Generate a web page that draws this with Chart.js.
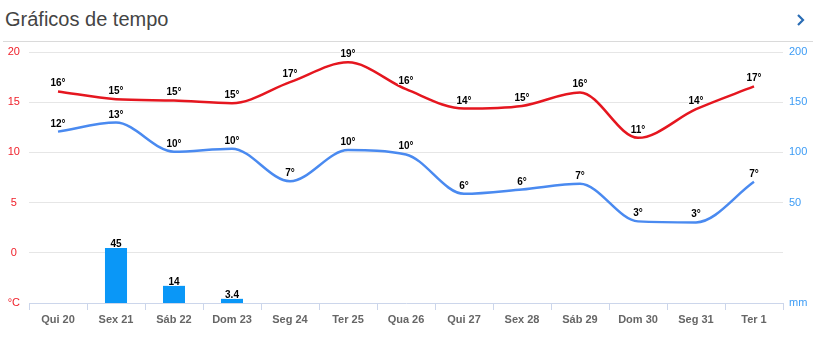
<!DOCTYPE html>
<html lang="pt">
<head>
<meta charset="utf-8">
<title>Gráficos de tempo</title>
<script src="https://cdn.jsdelivr.net/npm/chart.js@4.4.1/dist/chart.umd.min.js"></script>
<style>
  html, body { margin: 0; padding: 0; background: #fff; }
  body { width: 816px; height: 340px; position: relative; overflow: hidden; font-family: 'Liberation Sans', Arial, sans-serif; }
  .header { position: absolute; left: 3px; top: 0; width: 810px; height: 41px; border-bottom: 1px solid #dadada; }
  .header h2 { margin: 0; position: absolute; left: 2px; top: 8px; font-size: 20px; font-weight: normal; color: #444; }
  .header svg { position: absolute; left: 792px; top: 13px; }
  .chart-box { position: absolute; left: 0; top: 43px; width: 816px; height: 297px; }
</style>
</head>
<body>
<div class="header">
  <h2>Gráficos de tempo</h2>
  <svg width="12" height="14" viewBox="0 0 12 14"><polyline points="3,2 8,7 3,12" fill="none" stroke="#2a6db5" stroke-width="2.2"/></svg>
</div>
<div class="chart-box"><canvas id="tempo-chart"></canvas></div>

<script>
// days shown along the bottom
const days = ['Qui 20', 'Sex 21', 'Sáb 22', 'Dom 23', 'Seg 24', 'Ter 25', 'Qua 26',
  'Qui 27', 'Sex 28', 'Sáb 29', 'Dom 30', 'Seg 31', 'Ter 1'];

// max / min temperature (°C)
const tempMax = [16.07, 15.3, 15.17, 14.9, 17.0, 18.97, 16.3, 14.37, 14.63, 15.97, 11.45, 14.3, 16.57];
const tempMin = [12.07, 12.97, 10.07, 10.37, 7.13, 10.23, 9.8, 5.87, 6.3, 6.87, 3.13, 3.03, 7.07];

// rain (mm)
const rain = [null, 45, 14, 3.4, null, null, null, null, null, null, null, null, null];

// axis ticks
const tempTicks = [-5, 0, 5, 10, 15, 20];
const rainTicks = [-50, 0, 50, 100, 150, 200];

const RED = '#e5161f';
const BLUE = '#4a8af0';
const BAR = '#0a97f7';
const AXIS = '#ccd6eb';
const FONT = "'Liberation Sans', Arial, sans-serif";

// labels over every point and bar
const valueLabels = {
  id: 'valueLabels',
  afterDatasetsDraw(chart) {
    const ctx = chart.ctx;
    ctx.save();
    ctx.font = 'bold 10px ' + FONT;
    ctx.textAlign = 'center';
    ctx.textBaseline = 'alphabetic';
    ctx.fillStyle = '#000';
    ctx.strokeStyle = 'rgba(255,255,255,0.8)';
    ctx.lineWidth = 2;
    chart.data.datasets.forEach((ds, i) => {
      const meta = chart.getDatasetMeta(i);
      meta.data.forEach((el, j) => {
        const v = ds.data[j];
        if (v === null || v === undefined) return;
        let txt, y;
        if (ds.type === 'bar') {
          txt = String(v);
          y = el.y - 1;
        } else {
          txt = Math.round(v) + '°';
          y = el.y - 5;
        }
        ctx.strokeText(txt, el.x, y);
        ctx.fillText(txt, el.x, y);
      });
    });
    ctx.restore();
  }
};

// fixed side widths, and no extra room above/below for tick labels
function fixWidth(w) {
  return axis => {
    axis.width = w;
    axis.paddingTop = 0;
    axis.paddingBottom = 0;
  };
}

const data = {
  labels: days,
  datasets: [
    {
      type: 'bar',
      label: 'Chuva',
      data: rain,
      yAxisID: 'rain',
      backgroundColor: BAR,
      barPercentage: 0.76,
      categoryPercentage: 0.5,
      order: 3,
    },
    {
      type: 'line',
      label: 'Máx',
      data: tempMax,
      yAxisID: 'y',
      borderColor: RED,
      borderWidth: 2.5,
      pointRadius: 0,
      cubicInterpolationMode: 'monotone',
      order: 1,
    },
    {
      type: 'line',
      label: 'Mín',
      data: tempMin,
      yAxisID: 'y',
      borderColor: BLUE,
      borderWidth: 2.5,
      pointRadius: 0,
      cubicInterpolationMode: 'monotone',
      order: 2,
    },
  ]
};

const options = {
  responsive: true,
  maintainAspectRatio: false,
  animation: false,
  layout: { padding: { top: 9 } },
  plugins: {
    legend: { display: false },
    tooltip: { enabled: false },
  },
  scales: {
    x: {
      offset: true,
      grid: { drawOnChartArea: false, color: AXIS, tickLength: 7 },
      border: { color: AXIS },
      ticks: {
        color: '#666',
        padding: 3,
        maxRotation: 0,
        font: { family: FONT, size: 11, weight: 'bold' },
      },
      afterFit(axis) { axis.height = 37; },
    },
    y: {
      position: 'left',
      min: -5,
      max: 20,
      afterBuildTicks(axis) { axis.ticks = tempTicks.map(v => ({ value: v })); },
      grid: {
        drawTicks: false,
        color: ctx => ctx.tick && ctx.tick.value === -5 ? 'rgba(0,0,0,0)' : '#e6e6e6',
      },
      border: { display: false },
      ticks: {
        color: '#f0202a',
        crossAlign: 'center',
        padding: 9,
        font: { family: FONT, size: 11 },
        callback: v => v === -5 ? '°C' : v,
      },
      afterFit: fixWidth(29),
    },
    y2: {
      position: 'right',
      min: -50,
      max: 200,
      afterBuildTicks(axis) { axis.ticks = rainTicks.map(v => ({ value: v })); },
      grid: { display: false, drawTicks: false },
      border: { display: false },
      ticks: {
        color: '#3d9cf5',
        crossAlign: 'near',
        padding: 6,
        font: { family: FONT, size: 11 },
        callback: v => v === -50 ? 'mm' : (v === 0 ? '' : v),
      },
      afterFit: fixWidth(33),
    },
    // bars get their own scale, kept invisible
    rain: {
      position: 'right',
      min: 0,
      max: 205,
      grid: { display: false, drawTicks: false },
      border: { display: false },
      ticks: { display: false },
      afterFit: fixWidth(0),
    },
  },
};

const tempoChart = new Chart(document.getElementById('tempo-chart'), {
  data: data,
  options: options,
  plugins: [valueLabels],
});
</script>
</body>
</html>
